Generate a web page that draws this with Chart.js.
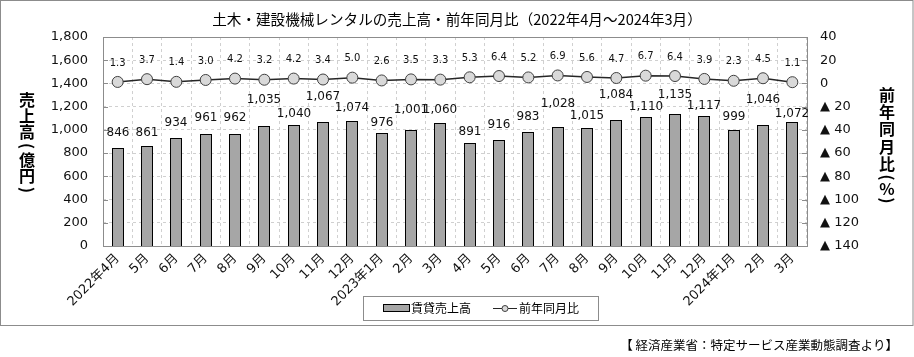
<!DOCTYPE html>
<html>
<head>
<meta charset="utf-8">
<script src="https://cdn.jsdelivr.net/npm/chart.js@4/dist/chart.umd.min.js"></script>
<style>
  html, body { margin: 0; padding: 0; background: #fff; }
  #wrap { width: 914px; height: 357px; }
</style>
</head>
<body>
<div id="wrap"><canvas id="c" width="914" height="357"></canvas></div>
<script>
// ---- data ----
const categories = ['2022年4月','5月','6月','7月','8月','9月','10月','11月','12月',
  '2023年1月','2月','3月','4月','5月','6月','7月','8月','9月','10月','11月','12月',
  '2024年1月','2月','3月'];
const salesValues = [846, 861, 934, 961, 962, 1035, 1040, 1067, 1074, 976, 1001, 1060,
  891, 916, 983, 1028, 1015, 1084, 1110, 1135, 1117, 999, 1046, 1072];
const yoyValues = [1.3, 3.7, 1.4, 3.0, 4.2, 3.2, 4.2, 3.4, 5.0, 2.6, 3.5, 3.3,
  5.3, 6.4, 5.2, 6.9, 5.6, 4.7, 6.7, 6.4, 3.9, 2.3, 4.5, 1.1];
const leftTicks = [0, 200, 400, 600, 800, 1000, 1200, 1400, 1600, 1800];
const rightTicks = [-140, -120, -100, -80, -60, -40, -20, 0, 20, 40];
const seriesNames = ['賃貸売上高', '前年同月比'];
const titleText = '土木・建設機械レンタルの売上高・前年同月比（2022年4月～2024年3月）';
const leftTitle = ['売', '上', '高', '(', '億', '円', ')'];
const rightTitle = ['前', '年', '同', '月', '比', '(', '%', ')'];
const sourceText = '【 経済産業省：特定サービス産業動態調査より】';

// label placement (pixels above the bar top), as manually arranged in the original
const barLabelLift = [15, 13, 15, 16, 16, 26, 11, 25, 13, 10, 20, 13,
  11, 15, 15, 23, 12, 25, 10, 19, 10, 13, 25, 8];

const NUM_FONT = "'DejaVu Sans', 'Noto Sans CJK JP', sans-serif";
const JP_FONT = "'Noto Sans CJK JP', sans-serif";

function drawVertical(ctx, chars, x, yFirst, size, kanjiAdv, smallAdv) {
  ctx.save();
  ctx.font = 'bold ' + size + 'px ' + JP_FONT;
  ctx.fillStyle = '#000';
  ctx.textAlign = 'center';
  ctx.textBaseline = 'middle';
  const adv = ch => (ch === '(' || ch === ')') ? smallAdv : (ch === '%' ? smallAdv * 1.3 : kanjiAdv);
  let y = yFirst;
  chars.forEach((ch, i) => {
    if (i > 0) y += adv(chars[i - 1]) / 2 + adv(ch) / 2;
    if (ch === '(' || ch === ')') {
      ctx.save();
      ctx.translate(x, y);
      ctx.rotate(Math.PI / 2);
      ctx.fillText(ch, 0, 0);
      ctx.restore();
    } else {
      ctx.fillText(ch, x, y);
    }
  });
  ctx.restore();
}

const decorPlugin = {
  id: 'decor',
  afterDatasetsUpdate(chart) {
    // snap bar edges to the pixel grid so every outline renders crisply
    chart.getDatasetMeta(0).data.forEach(el => {
      el.width = Math.round(el.width);
      el.x = Math.round(el.x - el.width / 2) + el.width / 2;
      el.y = Math.round(el.y);
      el.base = Math.round(el.base);
    });
  },
  beforeDraw(chart) {
    const ctx = chart.ctx;
    ctx.save();
    ctx.fillStyle = '#fff';
    ctx.fillRect(0, 0, chart.width, chart.height);
    ctx.strokeStyle = '#8c8c8c';
    ctx.lineWidth = 1;
    ctx.strokeRect(0.5, 0.5, 912.5, 325);
    ctx.restore();
  },
  beforeDatasetsDraw(chart) {
    const ctx = chart.ctx, a = chart.chartArea;
    ctx.save();
    ctx.strokeStyle = '#8c8c8c';
    ctx.lineWidth = 1;
    ctx.strokeRect(Math.round(a.left) + 0.5, Math.round(a.top) + 0.5,
      Math.round(a.right - a.left), Math.round(a.bottom - a.top));
    // inward tick marks
    const y = chart.scales.y, y2 = chart.scales.y2;
    ctx.beginPath();
    y.ticks.forEach((t, i) => {
      const py = Math.round(y.getPixelForTick(i)) + 0.5;
      ctx.moveTo(a.left, py); ctx.lineTo(a.left + 5, py);
    });
    y2.ticks.forEach((t, i) => {
      const py = Math.round(y2.getPixelForTick(i)) + 0.5;
      ctx.moveTo(a.right - 5, py); ctx.lineTo(a.right, py);
    });
    ctx.stroke();
    ctx.restore();
  },
  afterDatasetsDraw(chart) {
    const ctx = chart.ctx;
    ctx.save();
    ctx.fillStyle = '#111';
    ctx.textAlign = 'center';
    ctx.textBaseline = 'middle';
    const barMeta = chart.getDatasetMeta(0);
    ctx.font = '12px ' + NUM_FONT;
    barMeta.data.forEach((el, i) => {
      const v = chart.data.datasets[0].data[i];
      ctx.fillText(v.toLocaleString('en-US'), el.x, el.y - barLabelLift[i]);
    });
    const lineMeta = chart.getDatasetMeta(1);
    ctx.font = '10px ' + NUM_FONT;
    lineMeta.data.forEach((el, i) => {
      const v = chart.data.datasets[1].data[i];
      ctx.fillText(v.toFixed(1), el.x, el.y - 19);
    });
    ctx.restore();
  },
  afterDraw(chart) {
    const ctx = chart.ctx;
    // axis titles
    drawVertical(ctx, leftTitle, 27, 100, 16, 16, 12);
    drawVertical(ctx, rightTitle, 887, 95, 16, 17.2, 10);
    // legend
    ctx.save();
    ctx.strokeStyle = '#8c8c8c';
    ctx.lineWidth = 1;
    ctx.strokeRect(363.5, 296.5, 235, 24);
    const ds0 = chart.data.datasets[0], ds1 = chart.data.datasets[1];
    ctx.fillStyle = ds0.backgroundColor;
    ctx.fillRect(383.5, 304.5, 26, 7);
    ctx.strokeStyle = '#000';
    ctx.strokeRect(383.5, 304.5, 26, 7);
    ctx.fillStyle = '#000';
    ctx.font = '12px ' + JP_FONT;
    ctx.textAlign = 'left';
    ctx.textBaseline = 'middle';
    ctx.fillText(ds0.label, 411, 308.5);
    ctx.strokeStyle = ds1.borderColor;
    ctx.beginPath();
    ctx.moveTo(493, 308.5); ctx.lineTo(517, 308.5);
    ctx.stroke();
    ctx.beginPath();
    ctx.arc(505, 308.5, 3, 0, Math.PI * 2);
    ctx.fillStyle = ds1.pointBackgroundColor;
    ctx.fill();
    ctx.strokeStyle = ds1.pointBorderColor;
    ctx.stroke();
    ctx.fillStyle = '#000';
    ctx.fillText(ds1.label, 519, 308.5);
    // source
    ctx.font = '12.5px ' + JP_FONT;
    ctx.textAlign = 'right';
    ctx.fillText(sourceText, 898, 345);
    ctx.restore();
  }
};

const ctx = document.getElementById('c').getContext('2d');
new Chart(ctx, {
  data: {
    labels: categories,
    datasets: [
      {
        type: 'bar',
        label: seriesNames[0],
        data: salesValues,
        yAxisID: 'y',
        backgroundColor: '#a6a6a6',
        borderColor: '#000',
        borderWidth: 1,
        inflateAmount: 0,
        categoryPercentage: 1,
        barPercentage: 0.41,
        order: 2
      },
      {
        type: 'line',
        label: seriesNames[1],
        data: yoyValues,
        yAxisID: 'y2',
        borderColor: '#262626',
        borderWidth: 1.5,
        pointRadius: 5.5,
        pointBackgroundColor: '#d9d9d9',
        pointBorderColor: '#404040',
        pointBorderWidth: 1,
        tension: 0,
        order: 1
      }
    ]
  },
  options: {
    responsive: false,
    devicePixelRatio: 1,
    animation: false,
    layout: { padding: { top: 1, left: 0, right: 0, bottom: 0 } },
    plugins: {
      legend: { display: false },
      tooltip: { enabled: false },
      title: {
        display: true,
        text: titleText,
        color: '#000',
        font: { family: JP_FONT, size: 14.6, weight: 'normal' },
        padding: { top: 10, bottom: 8.5 }
      }
    },
    scales: {
      x: {
        offset: true,
        grid: { display: true, offset: true, color: '#d0d0d0', drawTicks: false },
        border: { display: false, dash: [3, 3] },
        ticks: {
          color: '#111',
          font: { family: NUM_FONT, size: 13 },
          minRotation: 45,
          maxRotation: 45,
          autoSkip: false,
          padding: 5
        },
        afterFit(scale) { scale.height = 111; }
      },
      y: {
        position: 'left',
        min: 0,
        max: 1800,
        afterBuildTicks(scale) { scale.ticks = leftTicks.map(v => ({ value: v })); },
        grid: { color: '#d0d0d0', drawTicks: false },
        border: { display: false, dash: [3, 3] },
        ticks: {
          color: '#111',
          font: { family: NUM_FONT, size: 13 },
          padding: 15,
          callback: v => v.toLocaleString('en-US')
        },
        afterFit(scale) { scale.width = 103; }
      },
      y2: {
        position: 'right',
        min: -140,
        max: 40,
        afterBuildTicks(scale) { scale.ticks = rightTicks.map(v => ({ value: v })); },
        grid: { display: false, drawTicks: false },
        border: { display: false },
        ticks: {
          color: '#111',
          font: { family: NUM_FONT, size: 13 },
          padding: 13,
          callback: v => v < 0 ? '▲ ' + Math.abs(v) : String(v)
        },
        afterFit(scale) { scale.width = 107; }
      }
    }
  },
  plugins: [decorPlugin]
});
</script>
</body>
</html>
